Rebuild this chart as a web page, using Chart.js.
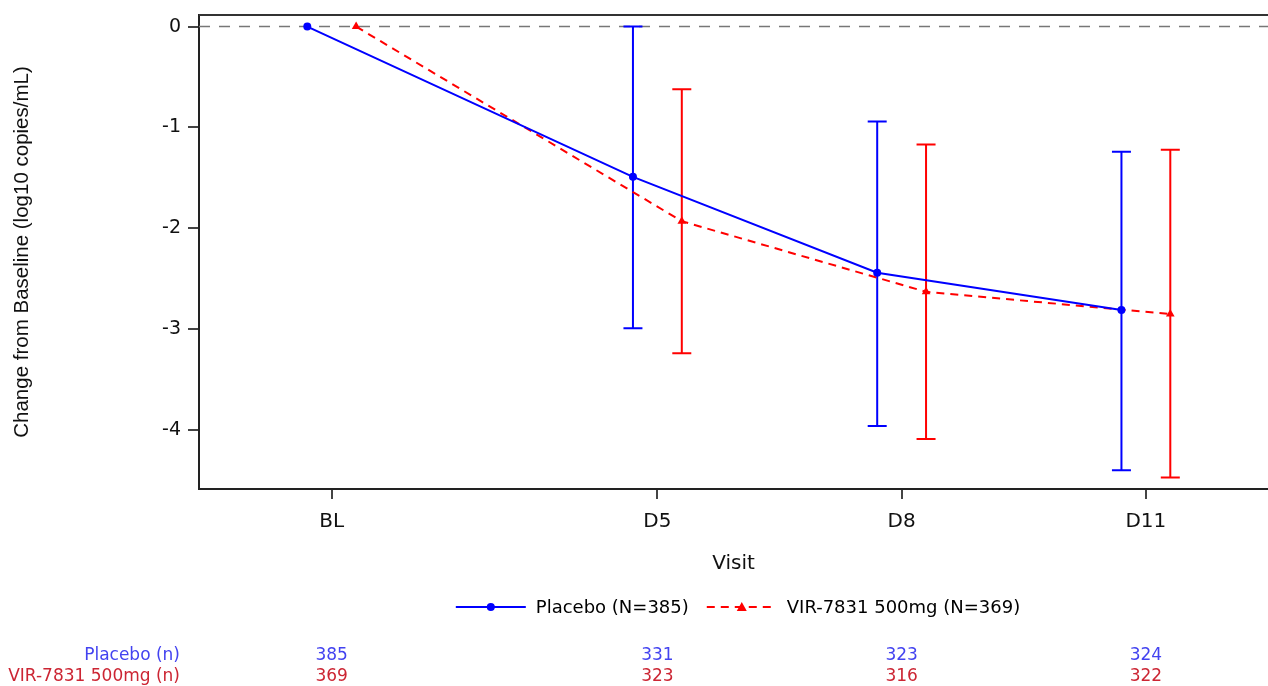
<!DOCTYPE html>
<html>
<head>
<meta charset="utf-8">
<script src="https://cdn.jsdelivr.net/npm/chart.js@4.4.1/dist/chart.umd.min.js"></script>
<style>
  html, body { margin: 0; padding: 0; background: #fff; }
  #wrap { position: relative; width: 1268px; height: 686px; }
</style>
</head>
<body>
<div id="wrap"><canvas id="chart" width="1268" height="686"></canvas></div>
<script>
// Visits (x axis is in study days, labelled by visit)
const visits = ['BL', 'D5', 'D8', 'D11'];
const visitDays = [1, 5, 8, 11];
const yTicks = [0, -1, -2, -3, -4];

// Placebo: mean change and error bar ends
const placeboMean = [0, -1.49, -2.44, -2.81];
const placeboLower = [null, -2.99, -3.96, -4.40];
const placeboUpper = [null, 0.00, -0.94, -1.24];
const placeboN = [385, 331, 323, 324];

// VIR-7831 500mg
const virMean = [0, -1.93, -2.63, -2.85];
const virLower = [null, -3.24, -4.09, -4.47];
const virUpper = [null, -0.62, -1.17, -1.22];
const virN = [369, 323, 316, 322];

const placeboLabel = 'Placebo (N=385)';
const virLabel = 'VIR-7831 500mg (N=369)';
const placeboRowLabel = 'Placebo (n)';
const virRowLabel = 'VIR-7831 500mg (n)';

const BLUE = '#0000ff';
const RED = '#ff0000';
const DODGE = 0.3;
const FONT = "'DejaVu Sans', sans-serif";

const toPoints = (means, shift) => means.map((m, i) => ({ x: visitDays[i] + shift, y: m }));

// Error bars, reference line at 0, top frame
const extrasPlugin = {
  id: 'extras',
  beforeDatasetsDraw(chart) {
    const { ctx, chartArea, scales: { x, y } } = chart;
    ctx.save();
    // top frame
    ctx.strokeStyle = '#333';
    ctx.lineWidth = 2;
    ctx.beginPath();
    ctx.moveTo(chartArea.left, chartArea.top);
    ctx.lineTo(chartArea.right, chartArea.top);
    ctx.stroke();
    // dashed zero line
    const y0 = y.getPixelForValue(0);
    ctx.strokeStyle = '#777';
    ctx.lineWidth = 1.5;
    ctx.setLineDash([11, 9]);
    ctx.beginPath();
    ctx.moveTo(chartArea.left, y0);
    ctx.lineTo(chartArea.right, y0);
    ctx.stroke();
    ctx.setLineDash([]);

    const bars = [
      { lo: placeboLower, hi: placeboUpper, shift: -DODGE, color: BLUE },
      { lo: virLower, hi: virUpper, shift: DODGE, color: RED }
    ];
    ctx.lineWidth = 2;
    bars.forEach(b => {
      ctx.strokeStyle = b.color;
      visitDays.forEach((d, i) => {
        if (b.lo[i] === null) return;
        const px = x.getPixelForValue(d + b.shift);
        const pLo = y.getPixelForValue(b.lo[i]);
        const pHi = y.getPixelForValue(b.hi[i]);
        ctx.beginPath();
        ctx.moveTo(px, pLo);
        ctx.lineTo(px, pHi);
        ctx.moveTo(px - 9.5, pLo);
        ctx.lineTo(px + 9.5, pLo);
        ctx.moveTo(px - 9.5, pHi);
        ctx.lineTo(px + 9.5, pHi);
        ctx.stroke();
      });
    });
    ctx.restore();
  },
  afterDraw(chart) {
    const { ctx, scales: { x } } = chart;
    ctx.save();

    // legend
    ctx.font = '18px ' + FONT;
    ctx.textBaseline = 'middle';
    const ly = 607;
    const sample = 70;
    const w1 = ctx.measureText(placeboLabel).width;
    const w2 = ctx.measureText(virLabel).width;
    const total = sample + 10 + w1 + 18 + sample + 10 + w2;
    let lx = 738 - total / 2;

    ctx.strokeStyle = BLUE;
    ctx.lineWidth = 2;
    ctx.beginPath();
    ctx.moveTo(lx, ly);
    ctx.lineTo(lx + sample, ly);
    ctx.stroke();
    ctx.fillStyle = BLUE;
    ctx.beginPath();
    ctx.arc(lx + sample / 2, ly, 4, 0, Math.PI * 2);
    ctx.fill();
    ctx.fillStyle = '#000';
    ctx.fillText(placeboLabel, lx + sample + 10, ly + 1);
    lx += sample + 10 + w1 + 18;

    ctx.strokeStyle = RED;
    ctx.setLineDash([8, 6]);
    ctx.beginPath();
    ctx.moveTo(lx, ly);
    ctx.lineTo(lx + sample, ly);
    ctx.stroke();
    ctx.setLineDash([]);
    ctx.fillStyle = RED;
    const cx = lx + sample / 2;
    ctx.beginPath();
    ctx.moveTo(cx, ly - 5);
    ctx.lineTo(cx + 5, ly + 4);
    ctx.lineTo(cx - 5, ly + 4);
    ctx.closePath();
    ctx.fill();
    ctx.fillStyle = '#000';
    ctx.fillText(virLabel, lx + sample + 10, ly + 1);

    // n at risk table
    ctx.font = '17px ' + FONT;
    const rows = [
      { label: placeboRowLabel, vals: placeboN, color: '#4343f0', y: 656 },
      { label: virRowLabel, vals: virN, color: '#cc2533', y: 677 }
    ];
    rows.forEach(r => {
      ctx.fillStyle = r.color;
      ctx.textAlign = 'right';
      ctx.fillText(r.label, 180, r.y);
      ctx.textAlign = 'center';
      r.vals.forEach((v, i) => ctx.fillText(String(v), x.getPixelForValue(visitDays[i]), r.y));
    });
    ctx.restore();
  }
};

new Chart(document.getElementById('chart'), {
  type: 'line',
  data: {
    datasets: [{
      label: placeboLabel,
      data: toPoints(placeboMean, -DODGE),
      borderColor: BLUE,
      backgroundColor: BLUE,
      borderWidth: 2,
      pointStyle: 'circle',
      pointRadius: 4,
      pointBorderWidth: 0,
      tension: 0
    }, {
      label: virLabel,
      data: toPoints(virMean, DODGE),
      borderColor: RED,
      backgroundColor: RED,
      borderWidth: 2,
      borderDash: [8, 6],
      pointStyle: 'triangle',
      pointRadius: 5,
      pointBorderWidth: 0,
      tension: 0
    }]
  },
  options: {
    responsive: false,
    animation: false,
    devicePixelRatio: 1,
    layout: { autoPadding: false, padding: { top: 15, left: 0, right: 0, bottom: 110 } },
    plugins: {
      legend: { display: false },
      tooltip: { enabled: false }
    },
    scales: {
      x: {
        type: 'linear',
        min: -0.63,
        max: 12.5,
        afterFit: s => { s.height = 87; s.paddingLeft = 0; s.paddingRight = 0; },
        afterBuildTicks: s => { s.ticks = visitDays.map(v => ({ value: v })); },
        border: { display: true, color: '#222', width: 2 },
        grid: { drawOnChartArea: false, drawTicks: true, tickLength: 10, color: '#444', lineWidth: 2 },
        ticks: {
          padding: 11,
          color: '#111',
          font: { family: FONT, size: 20 },
          callback: v => visits[visitDays.indexOf(v)]
        },
        title: {
          display: true,
          text: 'Visit',
          color: '#111',
          font: { family: FONT, size: 20 },
          padding: { top: 5, bottom: 0 }
        }
      },
      y: {
        min: -4.585,
        max: 0.115,
        afterFit: s => { s.width = 199; s.paddingTop = 0; s.paddingBottom = 0; },
        afterBuildTicks: s => { s.ticks = yTicks.map(v => ({ value: v })); },
        border: { display: true, color: '#222', width: 2 },
        grid: { drawOnChartArea: false, drawTicks: true, tickLength: 11, color: '#444', lineWidth: 2 },
        ticks: {
          padding: 7,
          color: '#111',
          font: { family: FONT, size: 19 }
        },
        title: {
          display: true,
          text: 'Change from Baseline (log10 copies/mL)',
          color: '#111',
          font: { family: "'Liberation Sans', Arial, sans-serif", size: 20.5 },
          padding: { top: 10, bottom: 0 }
        }
      }
    }
  },
  plugins: [extrasPlugin]
});
</script>
</body>
</html>
